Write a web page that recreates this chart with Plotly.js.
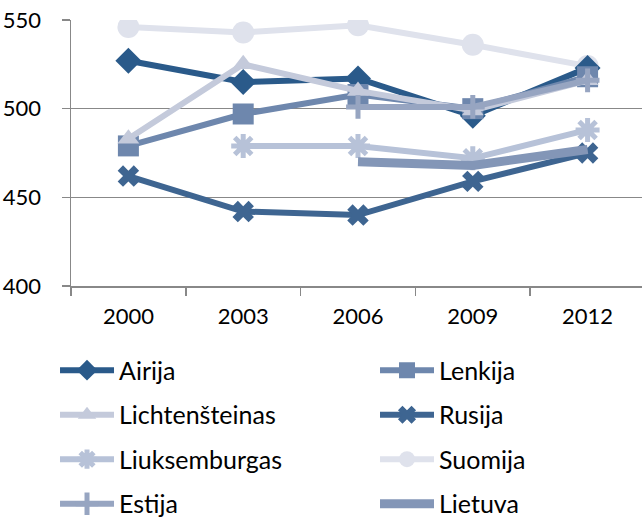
<!DOCTYPE html>
<html>
<head>
<meta charset="utf-8">
<script src="https://cdn.plot.ly/plotly-3.0.1.min.js"></script>
<style>html,body{margin:0;padding:0;background:#fff;overflow:hidden;width:642px;height:522px}#chart{width:642px;height:545px}</style>
</head>
<body>
<div id="chart"></div>
<script>
var years = ['2000', '2003', '2006', '2009', '2012'];
var airija = [527, 515, 517, 496, 523];
var lenkija = [479, 497, 508, 500, 518];
var lichtensteinas = [483, 525, 510, 499, 516];
var rusija = [462, 442, 440, 459, 475];
var liuksemburgas = [null, 479, 479, 472, 488];
var suomija = [546, 543, 547, 536, 524];
var estija = [null, null, 501, 501, 516];
var lietuva = [null, null, 470, 468, 477];
var yTicks = [400, 450, 500, 550];

function tr(name, y, color, symbol, size, lw, legend, rank, extra) {
  var t = {
    type: 'scatter', mode: 'lines+markers', name: name, x: years, y: y,
    line: {color: color, width: lw},
    marker: {symbol: symbol, size: size, color: color, line: {color: color, width: 0}},
    legend: legend, legendgroup: name, legendrank: rank, connectgaps: false,
    hoverinfo: 'x+y+name'
  };
  if (extra) extra(t);
  return t;
}
var openLine = function (w) { return function (t) { t.marker.line.width = w; }; };

var data = [
  tr('Suomija', suomija, '#dfe2ec', 'circle', 22, 6, 'legend2', 3),
  tr('Airija', airija, '#2a5a8a', 'diamond', 20, 6, 'legend', 1),
  tr('Lenkija', lenkija, '#6e87ad', 'square', 21, 6, 'legend2', 1),
  tr('Lichtenšteinas', lichtensteinas, '#c4cadb', 'triangle-up', 19, 6, 'legend', 2),
  tr('Rusija', rusija, '#3e6591', 'x', 19, 6, 'legend2', 2),
  tr('Liuksemburgas', liuksemburgas, '#b7c2d8', 'asterisk-open', 20, 6, 'legend', 3, openLine(5)),
  tr('Estija', estija, '#97a5c1', 'cross-thin-open', 17, 6, 'legend', 4, openLine(5)),
  tr('Lietuva', lietuva, '#8396b7', 'circle', 1, 9, 'legend2', 4, function (t) { t.mode = 'lines'; })
];

var font = {family: 'Lato, Carlito, Calibri, sans-serif', size: 22, color: '#000'};
var legendFont = {family: 'Lato, Carlito, Calibri, sans-serif', size: 25, color: '#000'};
var legendBase = {
  orientation: 'v', font: legendFont, bgcolor: 'rgba(0,0,0,0)', borderwidth: 0,
  itemwidth: 54, tracegroupgap: 9, xanchor: 'left', yanchor: 'top', itemsizing: 'trace'
};
var layout = {
  width: 642, height: 545,
  margin: {l: 71, r: 0, t: 20, b: 259, autoexpand: false},
  paper_bgcolor: '#fff', plot_bgcolor: '#fff',
  font: font,
  showlegend: true,
  xaxis: {
    type: 'category', range: [-0.5, 4.474], showgrid: false,
    showline: true, linecolor: '#888', linewidth: 1.5,
    ticks: 'outside', tickson: 'boundaries', ticklen: 8, tickcolor: '#888', tickwidth: 1.5,
    tickfont: font, ticklabelstandoff: 10, tickangle: 0, fixedrange: true
  },
  yaxis: {
    range: [400, 550], tickvals: yTicks, ticktext: yTicks.map(String),
    showgrid: true, gridcolor: '#888', gridwidth: 1.5, zeroline: false,
    showline: true, linecolor: '#888', linewidth: 1.5,
    ticks: 'outside', ticklen: 8, tickcolor: '#888', tickwidth: 1.5,
    tickfont: font, ticklabelstandoff: 16, fixedrange: true
  },
  legend: Object.assign({}, legendBase, {x: -0.028, y: -0.231}),
  legend2: Object.assign({}, legendBase, {x: 0.5324, y: -0.231})
};
Plotly.newPlot('chart', data, layout, {displayModeBar: false, staticPlot: true});
</script>
</body>
</html>
